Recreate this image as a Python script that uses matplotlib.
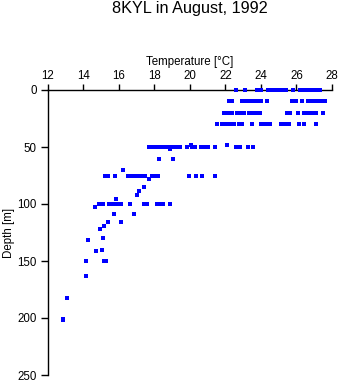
import matplotlib
matplotlib.use("Agg")
import matplotlib.pyplot as plt

plt.rcParams['font.family'] = ['Liberation Sans', 'DejaVu Sans']

title = "8KYL in August, 1992"
xlabel = "Temperature [°C]"
ylabel = "Depth [m]"
xticks = [12, 14, 16, 18, 20, 22, 24, 26, 28]
yticks = [0, 50, 100, 150, 200, 250]

# Depth 0 m
t0 = [22.6, 23.1, 23.8, 24.0, 24.4, 24.6, 24.8, 25.0, 25.2, 25.4, 25.8, 26.2, 26.4,
      26.6, 26.75, 26.9, 27.05, 27.2, 27.35]
# Depth 10 m
t10 = [22.2, 22.4, 22.95, 23.15, 23.35, 23.5, 23.7, 23.85, 24.0, 24.35, 25.75, 25.95,
       26.3, 26.65, 26.85, 27.05, 27.2, 27.45, 27.6]
# Depth 20 m
t20 = [21.9, 22.05, 22.2, 22.35, 22.65, 22.85, 23.05, 23.35, 23.5, 23.75, 23.95,
       25.45, 25.65, 26.1, 26.4, 26.55, 26.7, 26.85, 27.0, 27.1, 27.5]
# Depth 30 m
t30 = [21.5, 21.8, 21.95, 22.1, 22.25, 22.4, 22.5, 22.75, 22.95, 23.5, 24.0, 24.1,
       24.3, 24.5, 25.15, 25.3, 25.45, 25.6, 26.15, 26.45, 27.1]
# Depth 50 m
t50 = [17.7, 17.85, 18.1, 18.25, 18.45, 18.65, 18.8, 18.95, 19.1, 19.25, 19.45,
       19.85, 20.1, 20.3, 20.6, 20.85, 21.0, 21.4, 22.6, 22.85, 23.25, 23.55]
# Depth 75 m
t75 = [15.25, 15.4, 15.8, 16.5, 16.75, 16.95, 17.15, 17.35, 17.5, 17.85, 18.05, 18.2,
       19.98, 20.35, 20.68, 21.42]
# Depth 100 m
t100 = [14.9, 15.1, 15.45, 15.6, 15.75, 15.9, 16.1, 16.65, 17.4, 17.6, 18.15, 18.35,
        18.5, 18.9]
# Other single casts (temperature, depth)
t_other = [22.1, 18.88, 20.05, 18.26, 19.07, 16.22, 17.68, 17.42, 17.12, 17.0, 15.86,
           14.66, 15.75, 16.86, 15.41, 16.14, 15.19, 14.96, 15.13, 14.29, 14.7, 15.08,
           14.17, 15.15, 15.3, 14.17, 13.1, 12.88, 12.84]
d_other = [48, 51.8, 48, 60.5, 60.5, 70.5, 78.4, 85.4, 89, 92.4, 95.3,
           103, 109, 109, 116, 116, 119.4, 122, 130, 131.6, 141.5, 140.4,
           150, 150, 150, 163.4, 182.5, 201, 202]

fig = plt.figure(figsize=(3.41, 3.84), dpi=100)
ax = fig.add_axes([47.7 / 341, 1 - 375 / 384, (332 - 47.7) / 341, (375 - 90) / 384])

rows = [(t0, 0), (t10, 10), (t20, 20), (t30, 30), (t50, 50), (t75, 75), (t100, 100)]
for temps, d in rows:
    ax.plot(temps, [d] * len(temps), linestyle='none', marker='s', markersize=2.3,
            color='#0000ff', markeredgewidth=0, clip_on=False, zorder=5,
            antialiased=False)
ax.plot(t_other, d_other, linestyle='none', marker='s', markersize=2.3,
        color='#0000ff', markeredgewidth=0, clip_on=False, zorder=5,
        antialiased=False)

ax.set_xlim(12, 28)
ax.set_ylim(250, 0)
ax.xaxis.set_ticks_position('top')
ax.xaxis.set_label_position('top')
ax.set_xticks(xticks)
ax.set_yticks(yticks)
for s in ['right', 'bottom']:
    ax.spines[s].set_visible(False)
for s in ['top', 'left']:
    ax.spines[s].set_linewidth(1.0)
    ax.spines[s].set_color('black')

ax.tick_params(axis='x', direction='out', length=4, width=1, pad=2, labelsize=8.3)
ax.tick_params(axis='y', direction='out', length=5, width=1, pad=3, labelsize=8.3)
ax.set_xlabel(xlabel, fontsize=8.3, labelpad=3.5)
ax.set_ylabel(ylabel, fontsize=8.3, labelpad=1.5)

fig.text(190 / 341, 1 - 12.7 / 384, title, ha='center', va='baseline', fontsize=11.7)

fig.savefig("out.png", dpi=100, facecolor='white')
